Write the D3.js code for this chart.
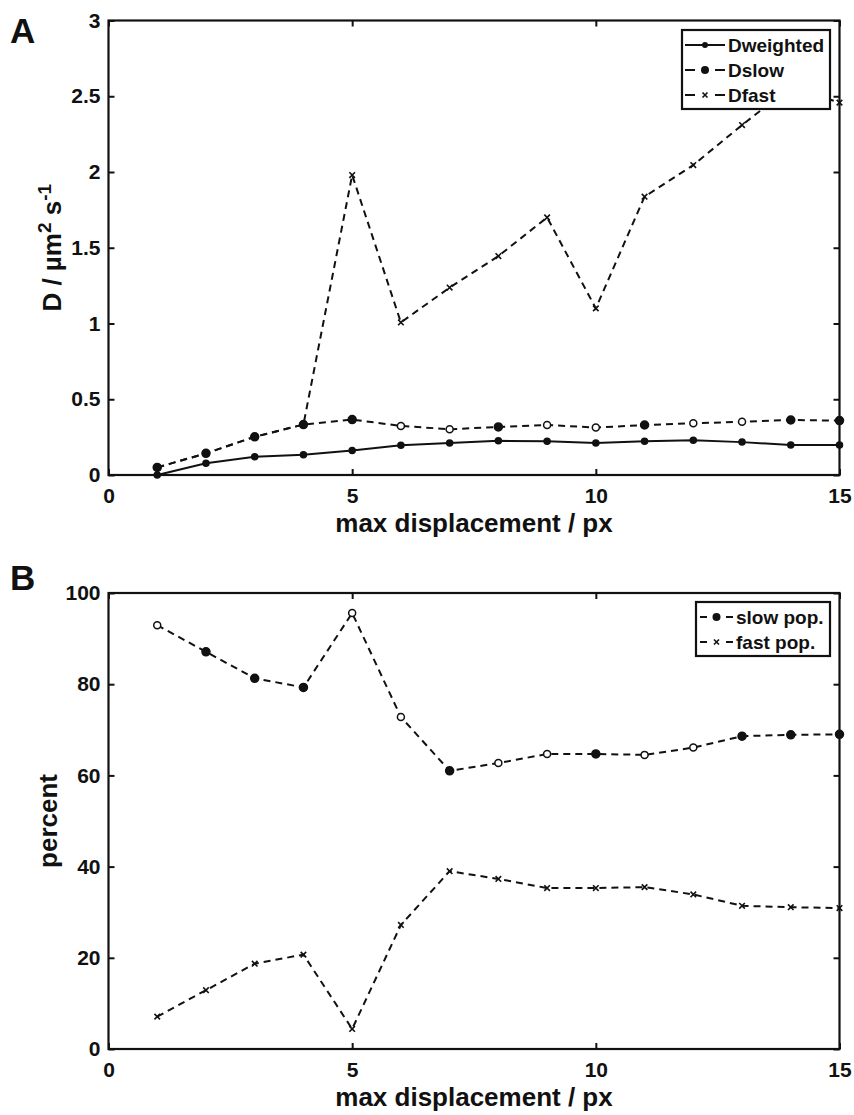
<!DOCTYPE html>
<html>
<head>
<meta charset="utf-8">
<script src="https://cdn.jsdelivr.net/npm/d3@7"></script>
<style>
  body { margin: 0; background: #fff; }
  text { font-family: "Liberation Sans", Arial, sans-serif; font-weight: bold; fill: #111; }
</style>
</head>
<body>
<svg id="chart" width="854" height="1115"></svg>
<script>
// data
const displacement = [1, 2, 3, 4, 5, 6, 7, 8, 9, 10, 11, 12, 13, 14, 15];

const dWeighted = [0.0, 0.077, 0.12, 0.134, 0.162, 0.196, 0.211, 0.226, 0.222, 0.211, 0.222, 0.230, 0.217, 0.198, 0.198];
const dSlow = [0.05, 0.143, 0.252, 0.333, 0.366, 0.324, 0.302, 0.317, 0.33, 0.313, 0.33, 0.341, 0.352, 0.363, 0.359];
const dFast = [0.05, 0.143, 0.252, 0.333, 1.98, 1.007, 1.237, 1.445, 1.70, 1.10, 1.837, 2.046, 2.31, 2.56, 2.458];
// some of the slow markers print as open circles
const dSlowFilled = [1, 1, 1, 1, 1, 0, 0, 1, 0, 0, 1, 0, 0, 1, 1];

const slowPop = [92.95, 87.1, 81.3, 79.3, 95.6, 72.8, 61.0, 62.7, 64.7, 64.7, 64.5, 66.1, 68.6, 68.9, 69.0];
const fastPop = [7.1, 12.9, 18.7, 20.7, 4.4, 27.2, 39.0, 37.3, 35.3, 35.3, 35.5, 33.9, 31.4, 31.1, 30.9];
const slowPopFilled = [0, 1, 1, 1, 0, 0, 1, 0, 0, 1, 0, 0, 1, 1, 1];

const xTicks = [0, 5, 10, 15];
const yTicksA = [0, 0.5, 1, 1.5, 2, 2.5, 3];
const yTicksB = [0, 20, 40, 60, 80, 100];

const svg = d3.select('#chart');
const ink = '#111';
const fmt = d3.format('~g');

function drawPanel(opt) {
  const g = svg.append('g');
  const x = d3.scaleLinear().domain([0, 15]).range([108.5, 839.5]);
  const y = d3.scaleLinear().domain(opt.yDomain).range([opt.bottom, opt.top]);

  // ticks on all four sides, pointing in
  g.append('g')
      .attr('transform', `translate(0,${opt.bottom})`)
      .call(d3.axisBottom(x).tickValues(xTicks).tickFormat(fmt).tickSize(-6).tickSizeOuter(0).tickPadding(13));
  g.append('g')
      .attr('transform', `translate(0,${opt.top})`)
      .call(d3.axisTop(x).tickValues(xTicks).tickSize(-6).tickSizeOuter(0).tickFormat(''));
  g.append('g')
      .attr('transform', `translate(108.5,0)`)
      .call(d3.axisLeft(y).tickValues(opt.yTicks).tickFormat(fmt).tickSize(-6).tickSizeOuter(0).tickPadding(8));
  g.append('g')
      .attr('transform', `translate(839.5,0)`)
      .call(d3.axisRight(y).tickValues(opt.yTicks).tickSize(-6).tickSizeOuter(0).tickFormat(''));

  g.selectAll('.domain').remove();
  g.selectAll('.tick line').attr('stroke', ink).attr('stroke-width', 2);
  g.selectAll('.tick text').attr('font-size', 21).attr('fill', ink)
      .style('font-family', '"Liberation Sans", Arial, sans-serif').style('font-weight', 'bold');

  g.append('rect')
      .attr('x', x(0)).attr('y', opt.top)
      .attr('width', x(15) - x(0)).attr('height', opt.bottom - opt.top)
      .attr('fill', 'none').attr('stroke', ink).attr('stroke-width', 2.2);

  const line = d3.line().x((d, i) => x(displacement[i])).y(d => y(d));

  opt.series.forEach(s => {
    g.append('path')
        .datum(s.values)
        .attr('fill', 'none')
        .attr('stroke', ink)
        .attr('stroke-width', 2)
        .attr('stroke-dasharray', s.dashed ? '7,5' : null)
        .attr('d', line);
    drawMarkers(g, s, x, y);
  });

  // x title, letter, y title
  svg.append('text')
      .attr('x', (x(0) + x(15)) / 2).attr('y', opt.bottom + 57)
      .attr('text-anchor', 'middle').attr('font-size', 26)
      .text('max displacement / px');
  svg.append('text')
      .attr('x', 10).attr('y', opt.letterY)
      .attr('font-size', 35)
      .text(opt.letter);
  const yt = svg.append('text')
      .attr('transform', `translate(${opt.yTitleX},${(opt.top + opt.bottom) / 2}) rotate(-90)`)
      .attr('text-anchor', 'middle').attr('font-size', 26);
  opt.yTitle(yt);

  // legend
  const L = opt.legend;
  const lg = svg.append('g');
  lg.append('rect')
      .attr('x', L.x).attr('y', L.y)
      .attr('width', L.w).attr('height', L.h)
      .attr('fill', '#fff').attr('stroke', ink).attr('stroke-width', 2.2);
  opt.series.forEach((s, i) => {
    const cy = L.y + 15 + i * 25;
    const x0 = L.x + L.pad, x1 = L.x + L.pad + L.sample;
    lg.append('line')
        .attr('x1', x0).attr('x2', x1).attr('y1', cy).attr('y2', cy)
        .attr('stroke', ink).attr('stroke-width', 2)
        .attr('stroke-dasharray', s.dashed ? L.dash : null);
    drawLegendMarker(lg, s, (x0 + x1) / 2, cy);
    lg.append('text')
        .attr('x', x1 + 3).attr('y', cy)
        .attr('dy', '0.36em').attr('font-size', 19)
        .text(s.name);
  });
}

function drawMarkers(g, s, x, y) {
  s.values.forEach((v, i) => {
    const px = x(displacement[i]), py = y(v);
    if (s.marker === 'cross') {
      g.append('path')
          .attr('transform', `translate(${px},${py})`)
          .attr('d', d3.symbol(d3.symbolTimes, 22)())
          .attr('stroke', ink).attr('stroke-width', 1.6).attr('fill', 'none');
    } else {
      const filled = s.filled ? s.filled[i] : 1;
      g.append('circle')
          .attr('cx', px).attr('cy', py)
          .attr('r', filled ? s.r : s.r - 0.5)
          .attr('fill', filled ? ink : '#fff')
          .attr('stroke', ink).attr('stroke-width', 1.5);
    }
  });
}

function drawLegendMarker(g, s, cx, cy) {
  if (s.marker === 'cross') {
    g.append('path')
        .attr('transform', `translate(${cx},${cy})`)
        .attr('d', d3.symbol(d3.symbolTimes, 18)())
        .attr('stroke', ink).attr('stroke-width', 1.6).attr('fill', 'none');
  } else {
    g.append('circle').attr('cx', cx).attr('cy', cy).attr('r', s.r).attr('fill', ink);
  }
}

drawPanel({
  top: 20.5, bottom: 475, yDomain: [0, 3], yTicks: yTicksA,
  letter: 'A', letterY: 43, yTitleX: 61,
  yTitle: t => {
    t.append('tspan').text('D / µm');
    t.append('tspan').attr('baseline-shift', 'super').attr('font-size', 19).text('2');
    t.append('tspan').text(' s');
    t.append('tspan').attr('baseline-shift', 'super').attr('font-size', 19).text('-1');
  },
  legend: { x: 682, y: 30, w: 148, h: 79, pad: 3, sample: 40, dash: '10,20,10' },
  series: [
    { name: 'Dweighted', values: dWeighted, dashed: false, marker: 'dot', r: 3 },
    { name: 'Dslow', values: dSlow, dashed: true, marker: 'dot', r: 4, filled: dSlowFilled },
    { name: 'Dfast', values: dFast, dashed: true, marker: 'cross' }
  ]
});

drawPanel({
  top: 593, bottom: 1049, yDomain: [0, 100], yTicks: yTicksB,
  letter: 'B', letterY: 590, yTitleX: 57,
  yTitle: t => t.text('percent'),
  legend: { x: 696, y: 602, w: 134, h: 54, pad: 4, sample: 33, dash: '7,19,7' },
  series: [
    { name: 'slow pop.', values: slowPop, dashed: true, marker: 'dot', r: 4, filled: slowPopFilled },
    { name: 'fast pop.', values: fastPop, dashed: true, marker: 'cross' }
  ]
});
</script>
</body>
</html>
